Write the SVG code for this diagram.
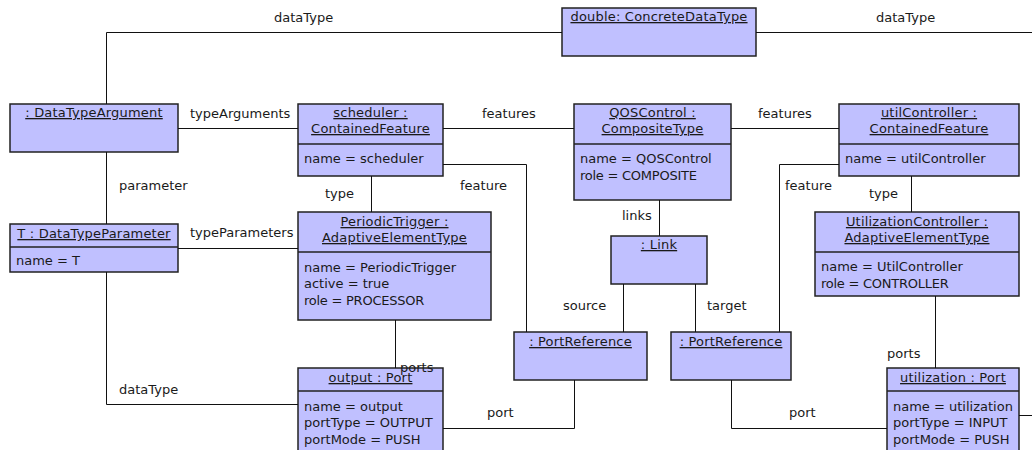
<svg xmlns="http://www.w3.org/2000/svg" width="1032" height="450" viewBox="0 0 1032 450">
  <style>
    text { font-family: "DejaVu Sans", "Liberation Sans", sans-serif; font-size: 13px; fill: #1a1a1a; }
    .box { fill: #c0c0ff; stroke: #222; stroke-width: 1.5; }
    .div { stroke: #222; stroke-width: 1.5; }
    .title { text-anchor: middle; text-decoration: underline; letter-spacing: 0.2px; }
    .tight { letter-spacing: -0.25px; }
    .edge { fill: none; stroke: #111; stroke-width: 1; }
  </style>
  <rect x="0" y="0" width="1032" height="450" fill="#ffffff"/>

  <g id="nodes">
    <g id="dataTypeArgument">
      <rect class="box" x="10" y="104" width="168" height="48"/>
      <text class="title" x="94" y="117">: DataTypeArgument</text>
    </g>
    <g id="doubleType">
      <rect class="box" x="562" y="8" width="194" height="48"/>
      <text class="title" x="659" y="21">double: ConcreteDataType</text>
    </g>
    <g id="scheduler">
      <rect class="box" x="298" y="104" width="145" height="72"/>
      <line class="div" x1="298" y1="144" x2="443" y2="144"/>
      <text class="title" x="370.5" y="117">scheduler :</text>
      <text class="title" x="370.5" y="133">ContainedFeature</text>
      <text x="304" y="163">name = scheduler</text>
    </g>
    <g id="qosControl">
      <rect class="box" x="574" y="104" width="157" height="96"/>
      <line class="div" x1="574" y1="144" x2="731" y2="144"/>
      <text class="title" x="652.5" y="117">QOSControl :</text>
      <text class="title" x="652.5" y="133">CompositeType</text>
      <text x="580" y="163">name = QOSControl</text>
      <text class="tight" x="580" y="180">role = COMPOSITE</text>
    </g>
    <g id="utilController">
      <rect class="box" x="839" y="104" width="180" height="72"/>
      <line class="div" x1="839" y1="144" x2="1019" y2="144"/>
      <text class="title" x="929" y="117">utilController :</text>
      <text class="title" x="929" y="133">ContainedFeature</text>
      <text x="845" y="163">name = utilController</text>
    </g>
    <g id="dataTypeParameter">
      <rect class="box" x="10" y="224" width="168" height="48"/>
      <line class="div" x1="10" y1="247" x2="178" y2="247"/>
      <text class="title" x="94" y="238">T : DataTypeParameter</text>
      <text x="16" y="265">name = T</text>
    </g>
    <g id="periodicTrigger">
      <rect class="box" x="298" y="212" width="193" height="108"/>
      <line class="div" x1="298" y1="252" x2="491" y2="252"/>
      <text class="title" x="394.5" y="226">PeriodicTrigger :</text>
      <text class="title" x="394.5" y="242">AdaptiveElementType</text>
      <text x="304" y="272">name = PeriodicTrigger</text>
      <text x="304" y="288">active = true</text>
      <text class="tight" x="304" y="304.5">role = PROCESSOR</text>
    </g>
    <g id="link">
      <rect class="box" x="611" y="236" width="96" height="48"/>
      <text class="title" x="659" y="249">: Link</text>
    </g>
    <g id="sourceRef">
      <rect class="box" x="514" y="332" width="133" height="48"/>
      <text class="title" x="580.5" y="346">: PortReference</text>
    </g>
    <g id="targetRef">
      <rect class="box" x="671" y="332" width="120" height="48"/>
      <text class="title" x="731" y="346">: PortReference</text>
    </g>
    <g id="utilizationController">
      <rect class="box" x="815" y="212" width="204" height="84"/>
      <line class="div" x1="815" y1="252" x2="1019" y2="252"/>
      <text class="title" x="917" y="226">UtilizationController :</text>
      <text class="title" x="917" y="242">AdaptiveElementType</text>
      <text x="821" y="271">name = UtilController</text>
      <text class="tight" x="821" y="287.5">role = CONTROLLER</text>
    </g>
    <g id="outputPort">
      <rect class="box" x="298" y="368" width="145" height="100"/>
      <line class="div" x1="298" y1="391" x2="443" y2="391"/>
      <text class="title" x="370.5" y="382">output : Port</text>
      <text x="304" y="411">name = output</text>
      <text x="304" y="427">portType = OUTPUT</text>
      <text x="304" y="443.5">portMode = PUSH</text>
    </g>
    <g id="utilizationPort">
      <rect class="box" x="887" y="368" width="132" height="100"/>
      <line class="div" x1="887" y1="391" x2="1019" y2="391"/>
      <text class="title" x="953" y="382">utilization : Port</text>
      <text x="893" y="411">name = utilization</text>
      <text x="893" y="427">portType = INPUT</text>
      <text x="893" y="443.5">portMode = PUSH</text>
    </g>
  </g>

  <g id="connectors">
    <polyline class="edge" points="106.5,104 106.5,32.5 562,32.5"/>
    <text x="274" y="22">dataType</text>
    <polyline class="edge" points="756,32.5 1032,32.5"/>
    <text x="876" y="22">dataType</text>

    <polyline class="edge" points="178,128.5 298,128.5"/>
    <text x="190" y="118">typeArguments</text>
    <polyline class="edge" points="443,128.5 574,128.5"/>
    <text x="482" y="118">features</text>
    <polyline class="edge" points="731,128.5 839,128.5"/>
    <text x="758" y="118">features</text>

    <polyline class="edge" points="443,164.5 526.5,164.5 526.5,332"/>
    <text x="460" y="190">feature</text>
    <polyline class="edge" points="839,164.5 779.5,164.5 779.5,332"/>
    <text x="785" y="190">feature</text>

    <polyline class="edge" points="371.5,176 371.5,212"/>
    <text x="325" y="198">type</text>
    <polyline class="edge" points="911.5,176 911.5,212"/>
    <text x="869" y="198">type</text>

    <polyline class="edge" points="106.5,152 106.5,224"/>
    <text x="119" y="190">parameter</text>
    <polyline class="edge" points="178,248.5 298,248.5"/>
    <text x="190" y="237">typeParameters</text>
    <polyline class="edge" points="106.5,272 106.5,404.5 298,404.5"/>
    <text x="119" y="394">dataType</text>

    <polyline class="edge" points="395.5,320 395.5,368"/>
    <text x="400" y="372">ports</text>

    <polyline class="edge" points="659.5,200 659.5,236"/>
    <text x="622" y="220">links</text>
    <polyline class="edge" points="623.5,284 623.5,332"/>
    <text x="563" y="310">source</text>
    <polyline class="edge" points="695.5,284 695.5,332"/>
    <text x="707" y="310">target</text>

    <polyline class="edge" points="443,428.5 574.5,428.5 574.5,380"/>
    <text x="487" y="417">port</text>
    <polyline class="edge" points="731.5,380 731.5,428.5 887,428.5"/>
    <text x="789" y="417">port</text>

    <polyline class="edge" points="935.5,296 935.5,368"/>
    <text x="887" y="358">ports</text>
    <polyline class="edge" points="1019,415.5 1032,415.5"/>
  </g>
</svg>
